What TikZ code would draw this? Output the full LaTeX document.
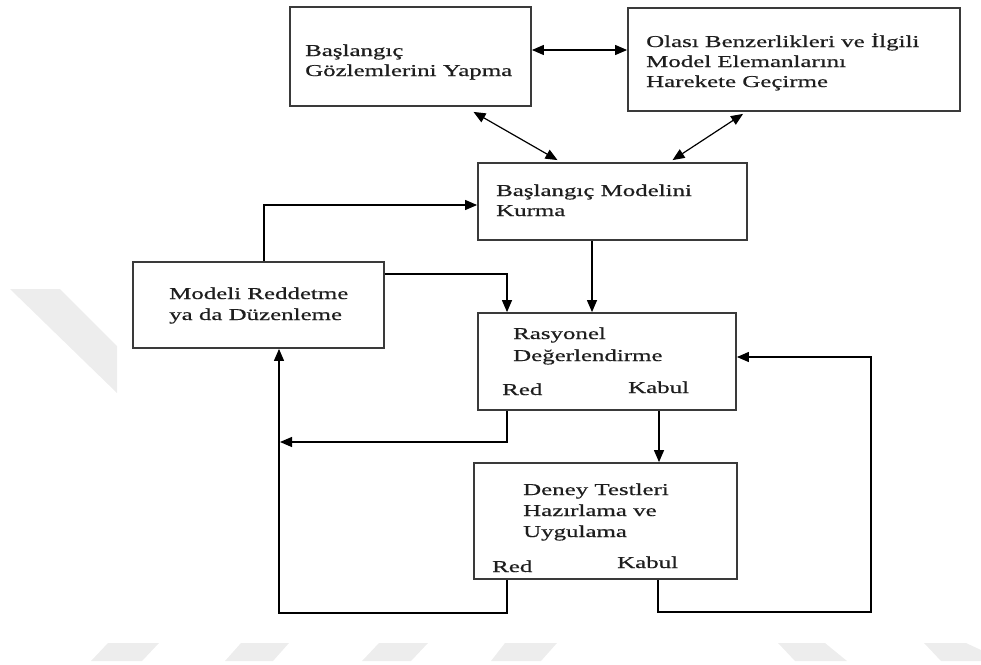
\documentclass[tikz,border=0pt]{standalone}
\usepackage{fontspec}
\setmainfont{Liberation Serif}[FakeStretch=1.5,FakeBold=0.6]
\usetikzlibrary{arrows.meta,calc}

\definecolor{boxline}{HTML}{3A3A3A}
\definecolor{inkcol}{HTML}{1E1E1E}
\definecolor{wmark}{HTML}{EDEDED}

\begin{document}
\begin{tikzpicture}[x=1pt,y=-1pt,
  box/.style={draw=boxline, line width=1.8pt, rectangle, inner sep=0pt, fill=white},
  txt/.style={anchor=base west, inner sep=0pt, text=inkcol,
              font=\fontsize{16.6}{19.5}\selectfont},
  tip/.tip={Triangle[length=12pt,width=10pt]},
  arr/.style={-tip, line width=1.2pt, draw=black},
  both/.style={tip-tip, line width=1.2pt, draw=black},
  plain/.style={line width=1.2pt, draw=black}]

\useasboundingbox (0,0) rectangle (981,664);

% faint background marks
\fill[wmark] (10,289) -- (60,289) -- (117,346) -- (117,393) -- cycle;
\fill[wmark] (91,661) -- (142,661) -- (159,643) -- (108,643) -- cycle;
\fill[wmark] (225,661) -- (273,661) -- (289,643) -- (241,643) -- cycle;
\fill[wmark] (362,661) -- (411,661) -- (428,643) -- (379,643) -- cycle;
\fill[wmark] (491,661) -- (541,661) -- (557,643) -- (505,643) -- cycle;
\fill[wmark] (795,661) -- (847,661) -- (825,643) -- (778,643) -- cycle;
\fill[wmark] (941,661) -- (981,661) -- (981,650) -- (966,643) -- (924,643) -- cycle;

% boxes
\node[box, minimum width=241pt, minimum height=99pt]  (A) at (410.5,56.5) {};
\node[box, minimum width=332pt, minimum height=103pt] (B) at (794,59.5)   {};
\node[box, minimum width=269pt, minimum height=77pt]  (C) at (612.5,201.5) {};
\node[box, minimum width=251pt, minimum height=86pt]  (D) at (258.5,305)  {};
\node[box, minimum width=258pt, minimum height=97pt]  (E) at (607,361.5)  {};
\node[box, minimum width=263pt, minimum height=116pt] (F) at (605.5,521)  {};

% box texts
\node[txt] (A1) at (305,56) {Başlangıç};
\node[txt] (A2) at (305,76) {Gözlemlerini Yapma};

\node[txt] (B1) at (646,47) {Olası Benzerlikleri ve İlgili};
\node[txt] (B2) at (646,67) {Model Elemanlarını};
\node[txt] (B3) at (646,87) {Harekete Geçirme};

\node[txt] (C1) at (496,196) {Başlangıç Modelini};
\node[txt] (C2) at (496,216) {Kurma};

\node[txt] (D1) at (169,299) {Modeli Reddetme};
\node[txt] (D2) at (169,320) {ya da Düzenleme};

\node[txt] (E1) at (513,339) {Rasyonel};
\node[txt] (E2) at (513,361) {Değerlendirme};
\node[txt] (E3) at (502,395) {Red};
\node[txt] (E4) at (628,393) {Kabul};

\node[txt] (F1) at (523,495) {Deney Testleri};
\node[txt] (F2) at (523,516) {Hazırlama ve};
\node[txt] (F3) at (523,537) {Uygulama};
\node[txt] (F4) at (492,572) {Red};
\node[txt] (F5) at (617,568) {Kabul};

% free ends and corners of the return paths
\coordinate (redin) at (280,442);
\coordinate (loopR) at (871,612);

% connectors
\draw[both] ([yshift=6.5pt]A.east) -- ([yshift=6.5pt]A.east -| B.west);
\draw[both] ([xshift=63pt,yshift=-5pt]A.south) -- ([xshift=-55pt,yshift=2pt]C.north);
\draw[both] ([xshift=-51pt,yshift=-2pt]B.south) -- ([xshift=60pt,yshift=2pt]C.north);

\draw[arr] ([xshift=5.5pt]D.north) |- ([yshift=-3.5pt]C.west);
\draw[arr] ([yshift=31pt]D.east) -| ([xshift=-100pt]E.north);
\draw[arr] ([xshift=-20.5pt]C.south) -- ([xshift=-20.5pt]C.south |- E.north);

\draw[arr] ([xshift=-100pt]E.south) |- (redin);
\draw[arr] ([xshift=52pt]E.south) -- ([xshift=52pt]E.south |- F.north);

\draw[arr] ([xshift=-98.5pt]F.south) -- ++(0,33) -| ([xshift=20.5pt]D.south);
\draw[arr] ([xshift=52.5pt]F.south) |- (loopR) |- ([yshift=4.5pt]E.east);

\end{tikzpicture}
\end{document}
